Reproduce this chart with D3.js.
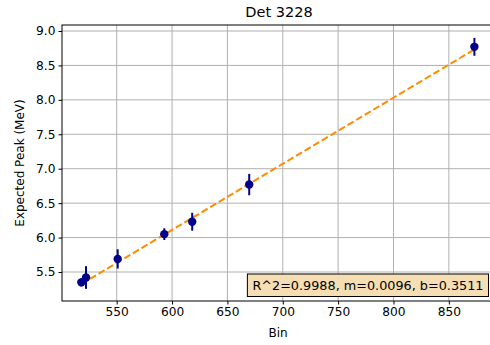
<!DOCTYPE html>
<html>
<head>
<meta charset="utf-8">
<script src="https://cdn.jsdelivr.net/npm/d3@7"></script>
<style>
  html, body { margin: 0; padding: 0; background: #fff; }
  svg { display: block; font-family: "DejaVu Sans", sans-serif; }
</style>
</head>
<body>
<svg id="chart" width="490" height="345"></svg>
<script>
// Calibration points: ADC bin vs expected peak energy, with uncertainties
const bins = [518.1, 522.3, 550.9, 593.0, 618.2, 669.7, 873.1];
const peaks = [5.35, 5.42, 5.69, 6.05, 6.23, 6.77, 8.77];
const peakErr = [0.06, 0.165, 0.14, 0.085, 0.13, 0.155, 0.13];

// Linear fit results
const fitR2 = 0.9988, fitM = 0.0096, fitB = 0.3511;

const xTicks = [550, 600, 650, 700, 750, 800, 850];
const yTicks = [5.5, 6.0, 6.5, 7.0, 7.5, 8.0, 8.5, 9.0];

const title = "Det 3228";
const xLabel = "Bin";
const yLabel = "Expected Peak (MeV)";

const svg = d3.select("#chart");
const m = { left: 62, top: 25, right: 494, bottom: 301 };

const x = d3.scaleLinear().domain([500.6, 890.8]).range([m.left, m.right]);
const y = d3.scaleLinear().domain([5.079, 9.087]).range([m.bottom, m.top]);

svg.append("clipPath").attr("id", "plot-clip")
  .append("rect").attr("x", m.left).attr("y", m.top)
  .attr("width", m.right - m.left).attr("height", m.bottom - m.top);

// Grid lines
const grid = svg.append("g").attr("stroke", "#b0b0b0").attr("stroke-width", 1);
grid.selectAll(".gx").data(xTicks).join("line")
  .attr("x1", d => x(d)).attr("x2", d => x(d))
  .attr("y1", m.top).attr("y2", m.bottom);
grid.selectAll(".gy").data(yTicks).join("line")
  .attr("x1", m.left).attr("x2", m.right)
  .attr("y1", d => y(d)).attr("y2", d => y(d));

// Fitted line across the data range
const xr = d3.extent(bins);
const plot = svg.append("g").attr("clip-path", "url(#plot-clip)");
plot.append("line")
  .attr("x1", x(xr[0])).attr("y1", y(fitM * xr[0] + fitB))
  .attr("x2", x(xr[1])).attr("y2", y(fitM * xr[1] + fitB))
  .attr("stroke", "#ff8c00").attr("stroke-width", 2)
  .attr("stroke-dasharray", "7,3");

// Error bars and points
const pts = bins.map((b, i) => ({ b, p: peaks[i], e: peakErr[i] }));
plot.selectAll(".err").data(pts).join("line")
  .attr("x1", d => x(d.b)).attr("x2", d => x(d.b))
  .attr("y1", d => y(d.p - d.e)).attr("y2", d => y(d.p + d.e))
  .attr("stroke", "#00008b").attr("stroke-width", 2);
plot.selectAll(".pt").data(pts).join("circle")
  .attr("cx", d => x(d.b)).attr("cy", d => y(d.p)).attr("r", 4.2)
  .attr("fill", "#00008b");

// Axes
const xAxis = svg.append("g").attr("transform", `translate(0,${m.bottom})`)
  .call(d3.axisBottom(x).tickValues(xTicks).tickFormat(d3.format("d")).tickSize(3.5).tickPadding(3));
const yAxis = svg.append("g").attr("transform", `translate(${m.left},0)`)
  .call(d3.axisLeft(y).tickValues(yTicks).tickFormat(d3.format(".1f")).tickSize(3.5).tickPadding(3));
[xAxis, yAxis].forEach(a => {
  a.select(".domain").remove();
  a.selectAll("text").attr("font-size", 12.2).attr("fill", "#000")
    .attr("font-family", "DejaVu Sans, sans-serif");
  a.selectAll("line").attr("stroke", "#000");
});

// Spines
svg.append("rect").attr("x", m.left).attr("y", m.top)
  .attr("width", m.right - m.left).attr("height", m.bottom - m.top)
  .attr("fill", "none").attr("stroke", "#000").attr("stroke-width", 1);

// Title and axis labels
svg.append("text").attr("x", (m.left + m.right) / 2 + 1).attr("y", 17)
  .attr("text-anchor", "middle").attr("font-size", 14.5).text(title);
svg.append("text").attr("x", (m.left + m.right) / 2).attr("y", 337)
  .attr("text-anchor", "middle").attr("font-size", 12).text(xLabel);
svg.append("text").attr("transform", `translate(24,${(m.top + m.bottom) / 2}) rotate(-90)`)
  .attr("text-anchor", "middle").attr("font-size", 12).text(yLabel);

// Fit statistics box
const statText = `R^2=${fitR2.toFixed(4)}, m=${fitM.toFixed(4)}, b=${fitB.toFixed(4)}`;
const boxG = svg.append("g");
const txt = boxG.append("text").attr("font-size", 12.8).attr("x", 0).attr("y", 0).text(statText);
const bb = txt.node().getBBox();
const boxRight = 488.5, boxBottom = 296.5, pad = 5;
const bw = bb.width + 2 * pad, bh = 22.5;
boxG.insert("rect", "text")
  .attr("x", boxRight - bw).attr("y", boxBottom - bh)
  .attr("width", bw).attr("height", bh)
  .attr("fill", "#f5deb3").attr("stroke", "#000").attr("stroke-width", 1);
txt.attr("x", boxRight - bw + pad).attr("y", boxBottom - 6.5);
</script>
</body>
</html>
